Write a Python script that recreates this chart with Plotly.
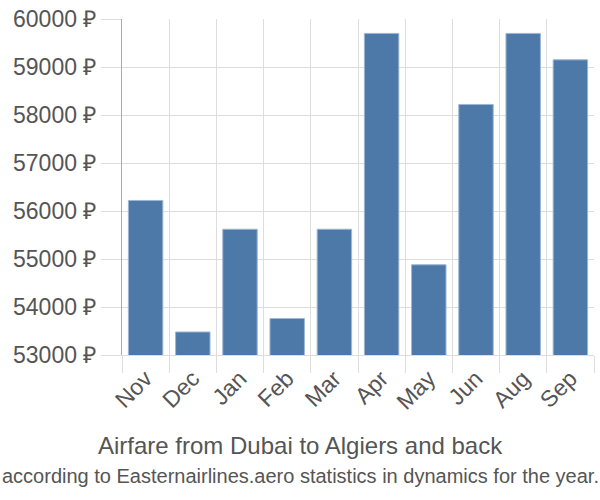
import plotly.graph_objects as go

months = ["Nov", "Dec", "Jan", "Feb", "Mar", "Apr", "May", "Jun", "Aug", "Sep"]
prices = [56220, 53480, 55620, 53760, 55620, 59700, 54880, 58220, 59700, 59150]
y_ticks = [53000, 54000, 55000, 56000, 57000, 58000, 59000, 60000]
y_labels = [f"{v} ₽" for v in y_ticks]
title = "Airfare from Dubai to Algiers and back"
subtitle = "according to Easternairlines.aero statistics in dynamics for the year."

font = "Liberation Sans, Arial, sans-serif"
txt = "#555555"

fig = go.Figure(go.Bar(
    x=months, y=prices,
    marker=dict(color="#4d79a8", line=dict(color="#9fb6d3", width=1)),
))
fig.update_layout(
    width=600, height=500,
    margin=dict(l=122, r=6, t=14, b=145),
    plot_bgcolor="white", paper_bgcolor="white",
    bargap=0.27, showlegend=False,
    font=dict(family=font, color=txt),
    annotations=[
        dict(text=title, x=0.5, y=53, xref="paper", yref="paper",
             xanchor="center", yanchor="middle", showarrow=False,
             font=dict(size=24, color=txt, family=font)),
        dict(text=subtitle, x=0.5, y=22, xref="paper", yref="paper",
             xanchor="center", yanchor="middle", showarrow=False,
             font=dict(size=20, color=txt, family=font)),
    ],
)
ph = 500 - 14 - 145
for a, ypix in zip(fig.layout.annotations, [447, 478]):
    a.y = (500 - 145 - ypix) / ph
    a.x = (300 - 122) / (600 - 122 - 6)

fig.update_xaxes(
    type="category", tickson="boundaries", ticks="outside", ticklen=17,
    tickcolor="#dddddd", showgrid=True, gridcolor="#dddddd", gridwidth=1,
    tickangle=-45, tickfont=dict(size=23, color=txt),
    showline=True, linecolor="#dddddd", mirror=False,
)
fig.update_yaxes(
    range=[53000, 60000], tickvals=y_ticks, ticktext=y_labels,
    ticks="outside", ticklen=20, tickcolor="#dddddd",
    showgrid=True, gridcolor="#dddddd", gridwidth=1,
    tickfont=dict(size=23, color=txt),
    showline=True, linecolor="#aaaaaa", zeroline=False,
)
fig.write_html("out.html")
